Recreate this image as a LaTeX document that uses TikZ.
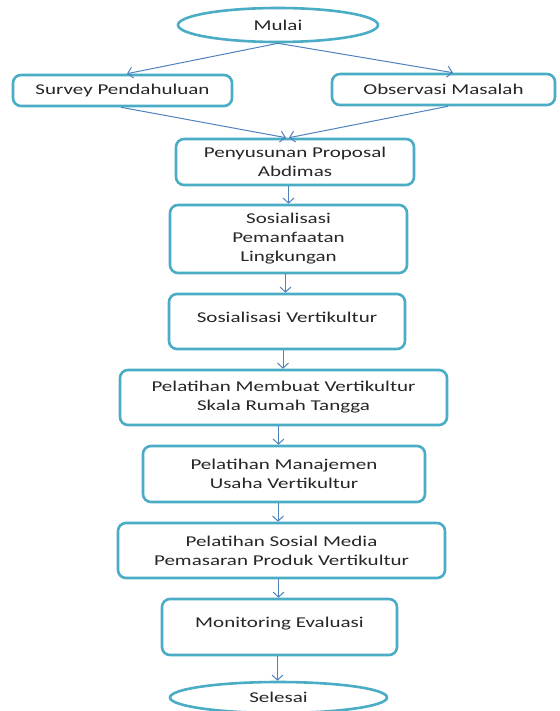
\documentclass[tikz,border=0pt]{standalone}
\usepackage{fontspec}
\setmainfont{Carlito}[FakeStretch=1.4]
\usetikzlibrary{shapes.geometric,arrows.meta}
\definecolor{boxc}{HTML}{4BACC6}
\definecolor{arrc}{HTML}{4F81BD}
\definecolor{txtc}{HTML}{262626}
\tikzset{
  stepbox/.style={draw=boxc, line width=2.6pt, rounded corners=8pt, fill=white, align=center, text=txtc, font=\fontsize{15}{19}\selectfont, inner sep=0pt},
  endell/.style={draw=boxc, line width=2.6pt, ellipse, fill=white, text=txtc, font=\fontsize{15}{19}\selectfont, inner sep=0pt},
  arr/.style={draw=arrc, line width=1pt, -{Straight Barb[length=5pt,width=11pt]}}
}
\begin{document}
\begin{tikzpicture}[x=1pt,y=-1pt]
\useasboundingbox (0,0) rectangle (559,711);
\node[endell, minimum width=200pt, minimum height=34pt] (mulai) at (278,25) {Mulai};
\node[stepbox, minimum width=219pt, minimum height=31pt] (survey) at (122.5,90.5) {Survey Pendahuluan};
\node[stepbox, minimum width=223pt, minimum height=31pt] (obs) at (443.5,89.5) {Observasi Masalah};
\node[stepbox, minimum width=238pt, minimum height=46pt] (prop) at (295,162) {Penyusunan Proposal\\Abdimas};
\node[stepbox, minimum width=237pt, minimum height=68pt] (sospem) at (288.5,239) {Sosialisasi\\Pemanfaatan\\Lingkungan};
\node[stepbox, minimum width=236pt, minimum height=55pt, text depth=8pt] (sosvert) at (287,321.5) {Sosialisasi Vertikultur};
\node[stepbox, minimum width=327pt, minimum height=55pt] (membuat) at (283.5,397.5) {Pelatihan Membuat Vertikultur\\Skala Rumah Tangga};
\node[stepbox, minimum width=282pt, minimum height=56pt] (manaj) at (284,474) {Pelatihan Manajemen\\Usaha Vertikultur};
\node[stepbox, minimum width=327pt, minimum height=55pt] (sosmed) at (281.5,550.5) {Pelatihan Sosial Media\\Pemasaran Produk Vertikultur};
\node[stepbox, minimum width=235pt, minimum height=56pt, text depth=10pt] (monev) at (279.5,627) {Monitoring Evaluasi};
\node[endell, minimum width=217pt, minimum height=31pt] (selesai) at (278.5,697.5) {Selesai};
\draw[arr] (mulai.south) -- ([xshift=4.5pt]survey.north);
\draw[arr] (mulai.south) -- ([xshift=9.5pt]obs.north);
\draw[arr] ([xshift=-1.5pt]survey.south) -- ([xshift=-9pt]prop.north);
\draw[arr] ([xshift=4.5pt]obs.south) -- ([xshift=-6pt]prop.north);
\draw[arr] (sospem.north |- prop.south) -- (sospem.north);
\draw[arr] ([xshift=-3pt]sospem.south) -- ([xshift=-3pt]sospem.south |- sosvert.north);
\draw[arr] ([xshift=-4pt]sosvert.south) -- ([xshift=-4pt]sosvert.south |- membuat.north);
\draw[arr] ([xshift=-5pt]membuat.south) -- ([xshift=-5pt]membuat.south |- manaj.north);
\draw[arr] ([xshift=-6pt]manaj.south) -- ([xshift=-6pt]manaj.south |- sosmed.north);
\draw[arr] ([xshift=-3pt]sosmed.south) -- ([xshift=-3pt]sosmed.south |- monev.north);
\draw[arr] ([xshift=-2pt]monev.south) -- ([xshift=-2pt]monev.south |- selesai.north);
\end{tikzpicture}
\end{document}
